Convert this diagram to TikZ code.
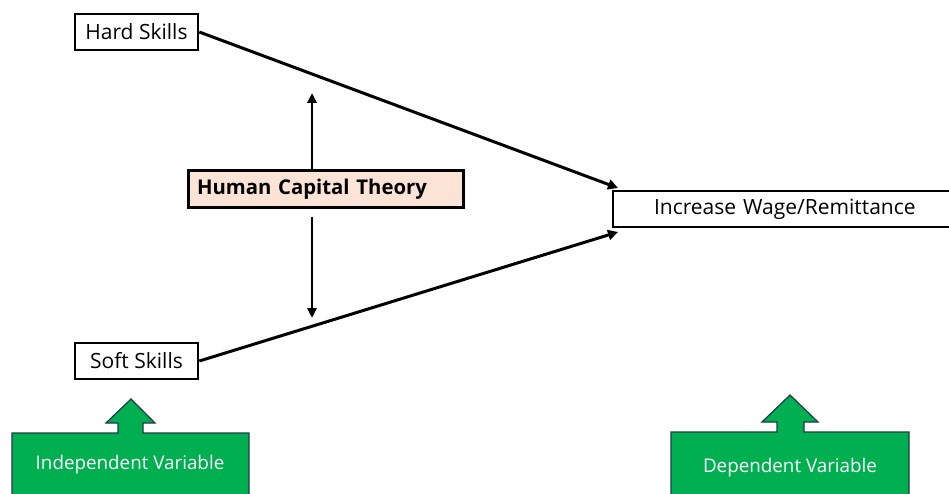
\documentclass[tikz,border=0pt]{standalone}
\usepackage{fontspec}
\setmainfont{Open Sans}
\usetikzlibrary{arrows.meta,calc}
\definecolor{varGreen}{HTML}{00B050}
\definecolor{varEdge}{HTML}{1F3A4D}
\definecolor{theoryFill}{HTML}{FBE3D6}
\tikzset{
  skillbox/.style={draw=black, line width=2.6pt, fill=white, minimum height=36pt,
    inner sep=0pt, font=\fontsize{21}{23}\selectfont},
  theorybox/.style={draw=black, line width=3pt, fill=theoryFill, minimum height=37pt,
    inner sep=0pt, font=\fontsize{20.3}{22}\selectfont\bfseries},
  link/.style={line width=3pt, -{Triangle[length=10pt,width=10pt]}},
  bothlink/.style={line width=2.6pt, -{Triangle[length=10pt,width=9pt]}},
  blockarrow/.style={fill=varGreen, draw=varEdge, line width=1.2pt, line join=miter},
  varlabel/.style={text=white, font=\fontsize{18.8}{20}\selectfont}
}
\begin{document}
\begin{tikzpicture}[x=1pt, y=-1pt]
  \useasboundingbox (0,0) rectangle (949,494);

  % boxes
  \node[skillbox, minimum width=123pt] (hard) at (136.5,32) {Hard Skills};
  \node[skillbox, minimum width=123pt] (soft) at (136.5,361) {Soft Skills};
  \node[theorybox, minimum width=275pt, text width=257pt, align=left] (hct) at (325.5,189.5) {Human Capital Theory};
  \node[skillbox, minimum width=344pt, text width=344pt, align=left] (inc) at (785,209)
    {\hspace{41pt}Increase Wage/Remittance};

  % paths to the outcome
  \coordinate (incTopTip) at (618,188);
  \coordinate (incBotTip) at (618,232);
  \draw[link] (hard.east) -- (incTopTip);
  \draw[link] (soft.east) -- (incBotTip);

  % theory arrows
  \coordinate (upTip) at (312,93);
  \coordinate (dnStart) at (312,217);
  \coordinate (dnTip) at (312,318);
  \draw[bothlink] (hct.north -| upTip) -- (upTip);
  \draw[bothlink] (dnStart) -- (dnTip);

  % block arrows for the variable types
  \draw[blockarrow] (12,500) -- (12,433) -- (118,433) -- (118,423) -- (106,423) -- (131,399)
    -- (155,423) -- (143,423) -- (143,433) -- (249,433) -- (249,500) -- cycle;
  \node[varlabel] (indep) at (130,465) {Independent Variable};

  \draw[blockarrow] (671,500) -- (671,432) -- (777,432) -- (777,422) -- (762,422) -- (790,395)
    -- (818,422) -- (804,422) -- (804,432) -- (909,432) -- (909,500) -- cycle;
  \node[varlabel] (dep) at (790,468) {Dependent Variable};
\end{tikzpicture}
\end{document}
